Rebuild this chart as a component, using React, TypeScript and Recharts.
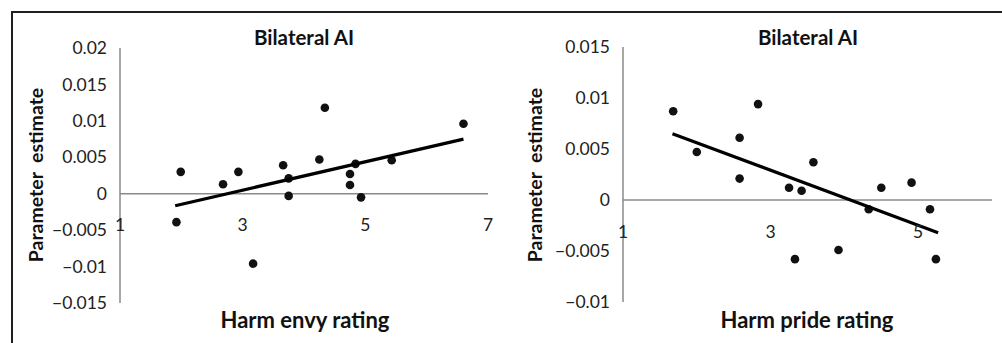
import React from "react";
import {
  ScatterChart,
  Scatter,
  XAxis,
  YAxis,
  ReferenceLine,
} from "recharts";

// Harm envy (left panel)
const envyX = [1.92, 1.99, 2.68, 2.93, 3.17, 3.66, 3.75, 3.75, 4.25, 4.34, 4.75, 4.75, 4.84, 4.93, 5.43, 6.6];
const envyY = [-0.0039, 0.003, 0.0013, 0.003, -0.0096, 0.0039, 0.0021, -0.0003, 0.0047, 0.0118, 0.0027, 0.0012, 0.0041, -0.0005, 0.0046, 0.0096];
const envyFitX = [1.9, 6.6];
const envyFitY = [-0.00165, 0.0075];
const envyXTicks = [1, 3, 5, 7];
const envyYTicks = [-0.015, -0.01, -0.005, 0, 0.005, 0.01, 0.015, 0.02];

// Harm pride (right panel)
const prideX = [1.68, 2.0, 2.58, 2.58, 2.83, 3.25, 3.33, 3.42, 3.58, 3.92, 4.33, 4.5, 4.91, 5.16, 5.24];
const prideY = [0.0087, 0.0047, 0.0061, 0.0021, 0.0094, 0.0012, -0.0058, 0.0009, 0.0037, -0.0049, -0.0009, 0.0012, 0.0017, -0.0009, -0.0058];
const prideFitX = [1.67, 5.27];
const prideFitY = [0.0065, -0.0032];
const prideXTicks = [1, 3, 5];
const prideYTicks = [-0.01, -0.005, 0, 0.005, 0.01, 0.015];

const FONT = "Lato, 'Open Sans', sans-serif";
const AXIS = "#8a8a8a";

const toPoints = (xs: number[], ys: number[]) => xs.map((x, i) => ({ x, y: ys[i] }));
const fmt = (v: number) => (v < 0 ? "\u2212" + String(-v) : String(v));

const Dot = (props: any) => <circle cx={props.cx} cy={props.cy} r={4.3} fill="#111" />;
const NoShape = () => <g />;

function Panel({
  xs, ys, fitX, fitY, xTicks, yTicks, xDomain, yDomain, margin, width, tickDy,
}: {
  xs: number[]; ys: number[]; fitX: number[]; fitY: number[];
  xTicks: number[]; yTicks: number[]; xDomain: [number, number]; yDomain: [number, number];
  margin: { top: number; right: number; bottom: number; left: number }; width: number; tickDy: number;
}) {
  return (
    <ScatterChart width={width} height={343} margin={margin}>
      <XAxis
        type="number"
        dataKey="x"
        domain={xDomain}
        ticks={xTicks}
        axisLine={false}
        tickLine={false}
        height={30}
        tick={{ fontSize: 17.5, fill: "#222", fontFamily: FONT, dy: tickDy }}
      />
      <YAxis
        type="number"
        dataKey="y"
        domain={yDomain}
        ticks={yTicks}
        width={60}
        tickLine={false}
        tickMargin={7}
        axisLine={{ stroke: AXIS, strokeWidth: 1.5 }}
        tickFormatter={fmt}
        tick={{ fontSize: 17.5, fill: "#222", fontFamily: FONT }}
      />
      <ReferenceLine y={0} stroke={AXIS} strokeWidth={1.5} />
      <Scatter data={toPoints(xs, ys)} shape={Dot} isAnimationActive={false} />
      <Scatter
        data={toPoints(fitX, fitY)}
        shape={NoShape}
        line={{ stroke: "#000", strokeWidth: 3.2 }}
        lineType="joint"
        isAnimationActive={false}
      />
    </ScatterChart>
  );
}

const label = (text: string, cx: number, cy: number, size: number, rotate = false): React.ReactElement => (
  <div
    style={{
      position: "absolute",
      left: cx,
      top: cy,
      transform: `translate(-50%, -50%)${rotate ? " rotate(-90deg)" : ""}`,
      fontFamily: FONT,
      fontWeight: 700,
      fontSize: size,
      color: "#111",
      whiteSpace: "pre",
      lineHeight: 1,
    }}
  >
    {text}
  </div>
);

export default function App() {
  return (
    <div style={{ position: "absolute", left: 0, top: 0, width: 1002, height: 343, background: "#fff", overflow: "hidden" }}>
      <div
        style={{
          position: "absolute",
          left: 11,
          top: 11,
          width: 991,
          height: 332,
          borderTop: "2px solid #231f20",
          borderLeft: "2px solid #231f20",
          boxSizing: "border-box",
        }}
      />
      <div style={{ position: "absolute", left: 0, top: 0 }}>
        <Panel
          xs={envyX} ys={envyY} fitX={envyFitX} fitY={envyFitY}
          xTicks={envyXTicks} yTicks={envyYTicks}
          xDomain={[1, 7]} yDomain={[-0.015, 0.02]}
          margin={{ top: 48, right: 12, bottom: 10, left: 60 }}
          width={500}
          tickDy={-92}
        />
      </div>
      <div style={{ position: "absolute", left: 500, top: 0 }}>
        <Panel
          xs={prideX} ys={prideY} fitX={prideFitX} fitY={prideFitY}
          xTicks={prideXTicks} yTicks={prideYTicks}
          xDomain={[1, 6]} yDomain={[-0.01, 0.015]}
          margin={{ top: 47, right: 10, bottom: 11, left: 63 }}
          width={502}
          tickDy={-84}
        />
      </div>
      {label("Bilateral AI", 304, 37, 20.5)}
      {label("Bilateral AI", 808, 37, 20.5)}
      {label("Harm envy rating", 305, 320, 22)}
      {label("Harm pride rating", 807, 320, 22)}
      {label("Parameter  estimate", 36, 175, 19.5, true)}
      {label("Parameter  estimate", 535, 175, 19.5, true)}
    </div>
  );
}
